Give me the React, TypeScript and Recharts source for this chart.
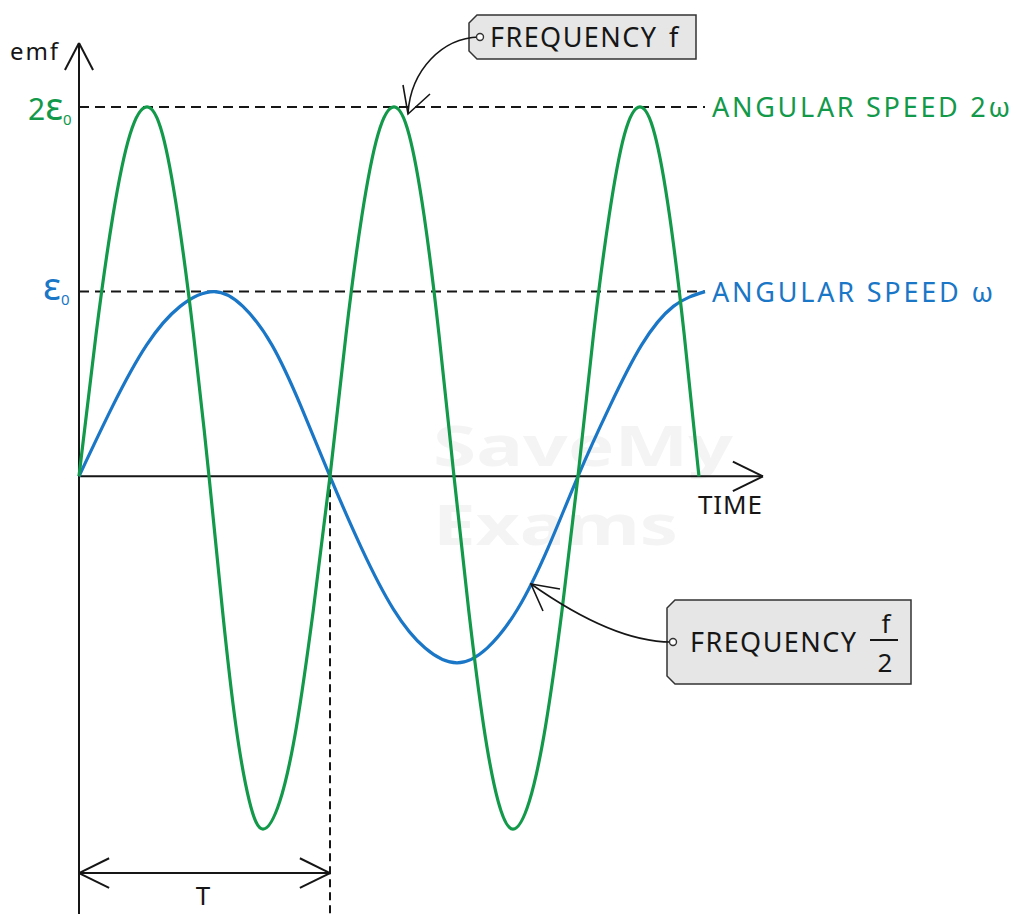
import { Line, LineChart, ReferenceLine, XAxis, YAxis } from "recharts";

// time in units of T (period of the 2ω curve), emf in units of ε0
const greenTime = [
    0, 0.068, 0.135, 0.203, 0.271, 0.333, 0.394, 0.456, 0.518,
    0.572, 0.625, 0.679, 0.733, 0.8, 0.867, 0.933, 1.0,
    1.064, 1.127, 1.191, 1.255, 1.315, 1.375, 1.434, 1.494,
    1.553, 1.612, 1.67, 1.729, 1.794, 1.859, 1.924, 1.988,
    2.05, 2.112, 2.173, 2.235, 2.294, 2.353, 2.411, 2.47,
];
const greenEmf = [
    0, 0.77, 1.41, 1.85, 2.0, 1.85, 1.41, 0.77, 0,
    -0.73, -1.35, -1.76, -1.91, -1.76, -1.35, -0.73, 0,
    0.77, 1.41, 1.85, 2.0, 1.85, 1.41, 0.77, 0,
    -0.73, -1.35, -1.76, -1.91, -1.76, -1.35, -0.73, 0,
    0.77, 1.41, 1.85, 2.0, 1.85, 1.41, 0.77, 0,
];
const blueTime = [
    0, 0.134, 0.269, 0.403, 0.538, 0.653, 0.769, 0.884, 1.0,
    1.126, 1.253, 1.379, 1.506, 1.626, 1.747, 1.868, 1.988,
    2.115, 2.241, 2.368, 2.494,
];
const blueEmf = [
    0, 0.38, 0.71, 0.92, 1.0, 0.92, 0.71, 0.38, 0,
    -0.39, -0.72, -0.93, -1.01, -0.93, -0.72, -0.39, 0,
    0.38, 0.71, 0.92, 1.0,
];

const levels = [2, 1];
const lineEnd = 2.494;
const periodT = 1;
const axisEndT = 2.725;
const axisTopEmf = 2.346;

const greenData = greenTime.map((t, i) => ({ t, v: greenEmf[i] }));
const blueData = blueTime.map((t, i) => ({ t, v: blueEmf[i] }));

const W = 1016;
const H = 914;
const ORIGIN_X = 79;
const ORIGIN_Y = 476.3;
const PX_T = 251;
const PX_E = 184.7;
const X_MIN = -ORIGIN_X / PX_T;
const X_MAX = (W - ORIGIN_X) / PX_T;
const Y_MIN = -(H - ORIGIN_Y) / PX_E;
const Y_MAX = ORIGIN_Y / PX_E;

const GREEN = "#12994a";
const BLUE = "#1a76c6";
const INK = "#161616";
const FONT = "'Noto Sans', sans-serif";

const App = () => {
    // arrowhead arm offsets in data units
    const armT = 0.056;
    const armE = 0.146;
    const tArmT = 0.12;
    const tArmE = 0.08;
    const tY = -2.148;
    return (
        <div style={{ position: "absolute", left: 0, top: 0, width: W, height: H, background: "#fff", fontFamily: FONT }}>
            <svg width={W} height={H} style={{ position: "absolute", left: 0, top: 0 }}>
                <text x={433} y={466} fontSize={56} fontWeight={700} fill="#f4f4f4" textLength={300} lengthAdjust="spacingAndGlyphs">SaveMy</text>
                <text x={433} y={545} fontSize={56} fontWeight={700} fill="#f4f4f4" textLength={245} lengthAdjust="spacingAndGlyphs">Exams</text>
            </svg>
            <div style={{ position: "absolute", left: 0, top: 0 }}>
                <LineChart width={W} height={H} margin={{ top: 0, right: 0, bottom: 0, left: 0 }}>
                    <XAxis type="number" dataKey="t" domain={[X_MIN, X_MAX]} allowDataOverflow hide />
                    <YAxis type="number" dataKey="v" domain={[Y_MIN, Y_MAX]} allowDataOverflow hide />
                    {levels.map((lv) => (
                        <ReferenceLine
                            key={lv}
                            segment={[{ x: 0, y: lv }, { x: lineEnd, y: lv }]}
                            stroke={INK}
                            strokeWidth={2}
                            strokeDasharray="10 6"
                            ifOverflow="visible"
                        />
                    ))}
                    <ReferenceLine segment={[{ x: periodT, y: 0 }, { x: periodT, y: Y_MIN }]} stroke={INK} strokeWidth={2} strokeDasharray="8 5" ifOverflow="visible" />
                    {/* axes */}
                    <ReferenceLine segment={[{ x: 0, y: Y_MIN }, { x: 0, y: axisTopEmf }]} stroke={INK} strokeWidth={2} ifOverflow="visible" />
                    <ReferenceLine segment={[{ x: -armT, y: axisTopEmf - armE }, { x: 0, y: axisTopEmf }]} stroke={INK} strokeWidth={2} ifOverflow="visible" />
                    <ReferenceLine segment={[{ x: armT, y: axisTopEmf - armE }, { x: 0, y: axisTopEmf }]} stroke={INK} strokeWidth={2} ifOverflow="visible" />
                    <ReferenceLine segment={[{ x: 0, y: 0 }, { x: axisEndT, y: 0 }]} stroke={INK} strokeWidth={2} ifOverflow="visible" />
                    <ReferenceLine segment={[{ x: axisEndT - tArmT, y: tArmE }, { x: axisEndT, y: 0 }]} stroke={INK} strokeWidth={2} ifOverflow="visible" />
                    <ReferenceLine segment={[{ x: axisEndT - tArmT, y: -tArmE }, { x: axisEndT, y: 0 }]} stroke={INK} strokeWidth={2} ifOverflow="visible" />
                    {/* period arrow */}
                    <ReferenceLine segment={[{ x: 0, y: tY }, { x: periodT, y: tY }]} stroke={INK} strokeWidth={2} ifOverflow="visible" />
                    <ReferenceLine segment={[{ x: tArmT, y: tY + tArmE }, { x: 0, y: tY }]} stroke={INK} strokeWidth={2} ifOverflow="visible" />
                    <ReferenceLine segment={[{ x: tArmT, y: tY - tArmE }, { x: 0, y: tY }]} stroke={INK} strokeWidth={2} ifOverflow="visible" />
                    <ReferenceLine segment={[{ x: periodT - tArmT, y: tY + tArmE }, { x: periodT, y: tY }]} stroke={INK} strokeWidth={2} ifOverflow="visible" />
                    <ReferenceLine segment={[{ x: periodT - tArmT, y: tY - tArmE }, { x: periodT, y: tY }]} stroke={INK} strokeWidth={2} ifOverflow="visible" />
                    <Line data={blueData} dataKey="v" type="natural" stroke={BLUE} strokeWidth={3.2} dot={false} activeDot={false} isAnimationActive={false} />
                    <Line data={greenData} dataKey="v" type="natural" stroke={GREEN} strokeWidth={3.2} dot={false} activeDot={false} isAnimationActive={false} />
                </LineChart>
            </div>
            <svg width={W} height={H} style={{ position: "absolute", left: 0, top: 0, pointerEvents: "none" }}>
                <text x={10} y={60} fontSize={24} fill={INK} textLength={48} lengthAdjust="spacing">emf</text>
                <text x={28} y={120} fill={GREEN}>
                    <tspan fontSize={30}>2</tspan>
                    <tspan fontSize={38}>ε</tspan>
                    <tspan fontSize={15} dy={5}>0</tspan>
                </text>
                <text x={43} y={300} fill={BLUE}>
                    <tspan fontSize={38}>ε</tspan>
                    <tspan fontSize={15} dy={5}>0</tspan>
                </text>
                <text x={712} y={117} fontSize={27} fill={GREEN} textLength={298} lengthAdjust="spacing">ANGULAR SPEED 2ω</text>
                <text x={712} y={302} fontSize={27} fill={BLUE} textLength={281} lengthAdjust="spacing">ANGULAR SPEED ω</text>
                <text x={698} y={514} fontSize={26} fill={INK} textLength={64} lengthAdjust="spacing">TIME</text>
                <text x={203} y={905} fontSize={26} fill={INK} textAnchor="middle">T</text>

                {/* callout: FREQUENCY f */}
                <path d="M477,15 L696,15 L696,59 L477,59 L469,51 L469,23 Z" fill="#e6e6e6" stroke="#333" strokeWidth={1.5} />
                <path d="M479,37 C 442,38 411,70 408,113" fill="none" stroke={INK} strokeWidth={1.6} />
                <path d="M403,85 L408,114 L430,94" fill="none" stroke={INK} strokeWidth={1.6} />
                <circle cx={480} cy={37} r={3.5} fill="#fff" stroke="#333" strokeWidth={1.4} />
                <text x={490} y={47} fontSize={27} fill={INK} textLength={166} lengthAdjust="spacing">FREQUENCY</text>
                <text x={669} y={47} fontSize={27} fill={INK}>f</text>

                {/* callout: FREQUENCY f/2 */}
                <path d="M675,600 L911,600 L911,684 L675,684 L667,676 L667,608 Z" fill="#e6e6e6" stroke="#333" strokeWidth={1.5} />
                <path d="M671,642 C 625,642 575,615 531,584" fill="none" stroke={INK} strokeWidth={1.6} />
                <path d="M560,589 L531,584 L543,611" fill="none" stroke={INK} strokeWidth={1.6} />
                <circle cx={673} cy={642} r={3.5} fill="#fff" stroke="#333" strokeWidth={1.4} />
                <text x={690} y={652} fontSize={27} fill={INK} textLength={166} lengthAdjust="spacing">FREQUENCY</text>
                <text x={886} y={633} fontSize={26} fill={INK} textAnchor="middle">f</text>
                <line x1={870} y1={640} x2={898} y2={640} stroke={INK} strokeWidth={2} />
                <text x={885} y={672} fontSize={26} fill={INK} textAnchor="middle">2</text>
            </svg>
        </div>
    );
};

export default App;
